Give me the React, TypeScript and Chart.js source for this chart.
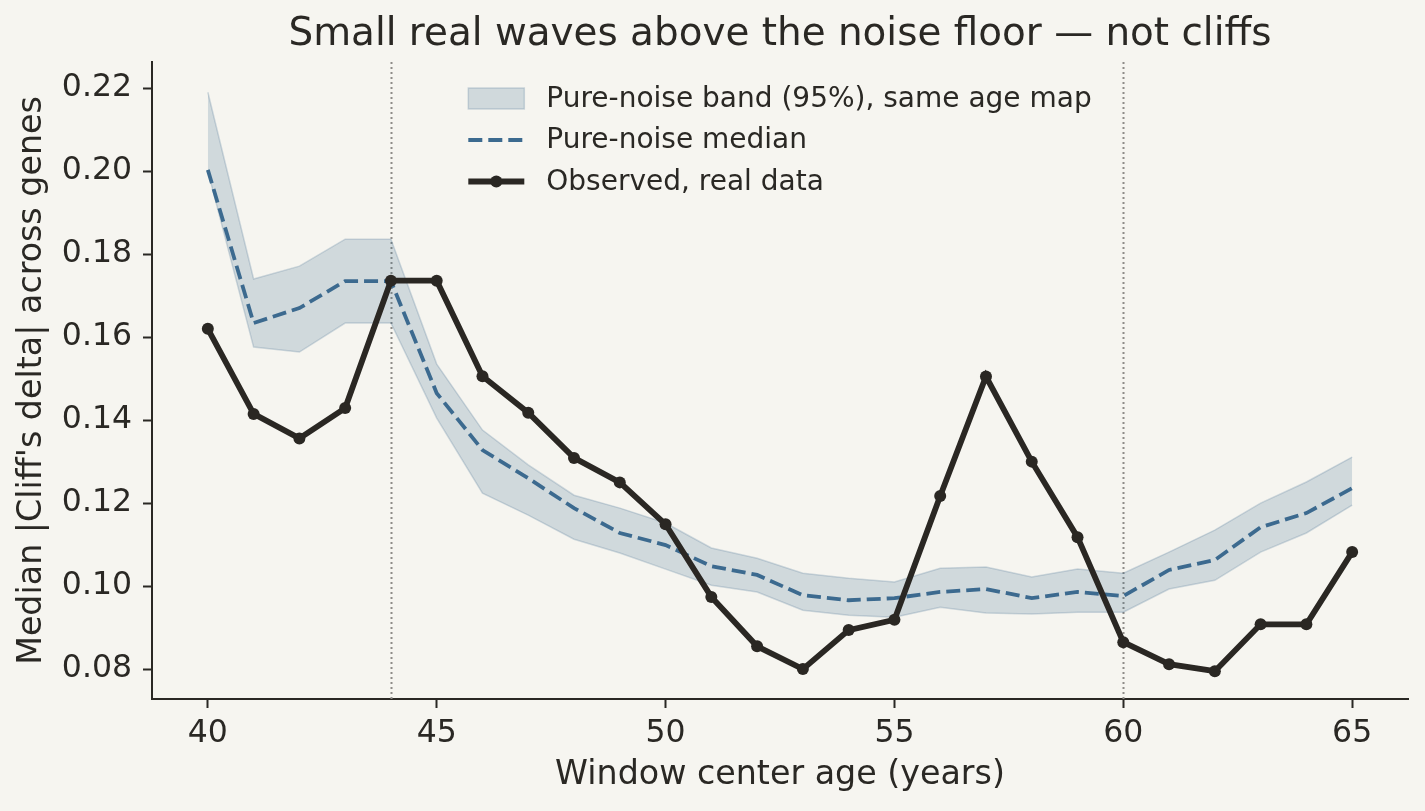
import React, { useEffect, useRef } from "react";
import { Chart, registerables } from "chart.js";

Chart.register(...registerables);

const AGES = [40, 41, 42, 43, 44, 45, 46, 47, 48, 49, 50, 51, 52, 53, 54, 55, 56, 57, 58, 59, 60, 61, 62, 63, 64, 65];
const OBSERVED = [0.162, 0.1415, 0.1356, 0.1429, 0.1736, 0.1736, 0.1506, 0.1418, 0.1309, 0.125, 0.1149, 0.0974, 0.0855, 0.08, 0.0894, 0.0919, 0.1217, 0.1505, 0.13, 0.1118, 0.0865, 0.0812, 0.0795, 0.0908, 0.0908, 0.1082];
const NOISE_MEDIAN = [0.2003, 0.1634, 0.167, 0.1735, 0.1735, 0.1465, 0.1328, 0.126, 0.1188, 0.1128, 0.1099, 0.1048, 0.1027, 0.0978, 0.0966, 0.0971, 0.0986, 0.0993, 0.0971, 0.0986, 0.0976, 0.1039, 0.1063, 0.1142, 0.1176, 0.1236];
const BAND_UPPER = [0.219, 0.174, 0.1771, 0.1836, 0.1836, 0.1535, 0.1376, 0.1292, 0.1219, 0.1188, 0.1152, 0.1092, 0.1067, 0.1031, 0.1019, 0.101, 0.1043, 0.1046, 0.1022, 0.1041, 0.1031, 0.1082, 0.1135, 0.12, 0.1251, 0.1311];
const BAND_LOWER = [0.2, 0.1576, 0.1564, 0.1634, 0.1634, 0.1405, 0.1224, 0.1171, 0.1113, 0.108, 0.1041, 0.1002, 0.0986, 0.0942, 0.093, 0.0925, 0.0949, 0.0935, 0.0933, 0.0937, 0.0937, 0.0993, 0.1014, 0.1082, 0.1128, 0.1195];

const X_TICKS = [40, 45, 50, 55, 60, 65];
const Y_TICKS = [0.08, 0.1, 0.12, 0.14, 0.16, 0.18, 0.2, 0.22];
const X_RANGE = [38.78, 66.22];
const Y_RANGE = [0.0728, 0.2263];
const VLINES = [44, 60];

const TITLE = "Small real waves above the noise floor — not cliffs";
const X_LABEL = "Window center age (years)";
const Y_LABEL = "Median |Cliff's delta| across genes";
const LEGEND_LABELS = ["Pure-noise band (95%), same age map", "Pure-noise median", "Observed, real data"];

const FONT = '"DejaVu Sans", "Liberation Sans", sans-serif';
const INK = "#2a2824";
const BG = "#f6f5f0";
const BAND_FILL = "rgba(61,106,142,0.2)";
const BAND_EDGE = "rgba(61,106,142,0.22)";
const MEDIAN_COLOR = "#3c6a8f";
const OBS_COLOR = "#2a2723";
const VLINE_COLOR = "#8e8c88";
const DASH = [14, 6];

const toPoints = (ys: number[]) => AGES.map((x, i) => ({ x, y: ys[i] }));

const vlinePlugin = {
  id: "vlines",
  beforeDatasetsDraw(chart: any) {
    const { ctx, chartArea, scales } = chart;
    ctx.save();
    ctx.strokeStyle = VLINE_COLOR;
    ctx.lineWidth = 2;
    ctx.setLineDash([2, 3]);
    VLINES.forEach((v) => {
      const px = Math.round(scales.x.getPixelForValue(v)) + 0.5;
      ctx.beginPath();
      ctx.moveTo(px, chartArea.top);
      ctx.lineTo(px, chartArea.bottom);
      ctx.stroke();
    });
    ctx.restore();
  },
};

const titleLegendPlugin = {
  id: "titleLegend",
  afterDraw(chart: any) {
    const { ctx, chartArea } = chart;
    const cx = (chartArea.left + chartArea.right) / 2;
    ctx.save();
    // title
    ctx.fillStyle = INK;
    ctx.font = `38.9px ${FONT}`;
    ctx.textAlign = "center";
    ctx.textBaseline = "middle";
    ctx.fillText(TITLE, cx, chartArea.top - 27);

    // legend
    ctx.font = `28px ${FONT}`;
    const widths = LEGEND_LABELS.map((t) => ctx.measureText(t).width);
    const handleW = 56;
    const gap = 22;
    const total = handleW + gap + Math.max(...widths);
    const left = cx - total / 2;
    const rowY = (i: number) => chartArea.top + 36.5 + i * 41.5;

    // band patch
    let y = rowY(0);
    ctx.fillStyle = BAND_FILL;
    ctx.fillRect(left, y - 10.5, handleW, 21);
    ctx.strokeStyle = BAND_EDGE;
    ctx.lineWidth = 1.5;
    ctx.strokeRect(left, y - 10.5, handleW, 21);

    // dashed median
    y = rowY(1);
    ctx.strokeStyle = MEDIAN_COLOR;
    ctx.lineWidth = 3.8;
    ctx.setLineDash(DASH);
    ctx.beginPath();
    ctx.moveTo(left, y);
    ctx.lineTo(left + handleW, y);
    ctx.stroke();
    ctx.setLineDash([]);

    // observed
    y = rowY(2);
    ctx.strokeStyle = OBS_COLOR;
    ctx.lineWidth = 6;
    ctx.beginPath();
    ctx.moveTo(left, y);
    ctx.lineTo(left + handleW, y);
    ctx.stroke();
    ctx.fillStyle = OBS_COLOR;
    ctx.beginPath();
    ctx.arc(left + handleW / 2, y, 6, 0, Math.PI * 2);
    ctx.fill();

    ctx.fillStyle = INK;
    ctx.textAlign = "left";
    ctx.textBaseline = "middle";
    LEGEND_LABELS.forEach((t, i) => ctx.fillText(t, left + handleW + gap, rowY(i) + 1));
    ctx.restore();
  },
};

export default function App() {
  const ref = useRef<HTMLCanvasElement | null>(null);

  useEffect(() => {
    if (!ref.current) return;
    const chart = new Chart(ref.current, {
      type: "line",
      data: {
        datasets: [
          {
            label: "band-lower",
            data: toPoints(BAND_LOWER),
            borderColor: BAND_EDGE,
            borderWidth: 1.5,
            pointRadius: 0,
            fill: false,
            tension: 0,
            order: 3,
          },
          {
            label: LEGEND_LABELS[0],
            data: toPoints(BAND_UPPER),
            borderColor: BAND_EDGE,
            borderWidth: 1.5,
            backgroundColor: BAND_FILL,
            pointRadius: 0,
            fill: "-1",
            tension: 0,
            order: 2,
          },
          {
            label: LEGEND_LABELS[1],
            data: toPoints(NOISE_MEDIAN),
            borderColor: MEDIAN_COLOR,
            borderWidth: 3.8,
            borderDash: DASH,
            pointRadius: 0,
            fill: false,
            tension: 0,
            order: 1,
          },
          {
            label: LEGEND_LABELS[2],
            data: toPoints(OBSERVED),
            borderColor: OBS_COLOR,
            borderWidth: 5.8,
            pointRadius: 6,
            pointBackgroundColor: OBS_COLOR,
            pointBorderWidth: 0,
            fill: false,
            tension: 0,
            order: 0,
          },
        ],
      },
      options: {
        animation: false,
        responsive: false,
        devicePixelRatio: 1,
        events: [],
        layout: { padding: { top: 62, right: 17, bottom: 0, left: 0 } },
        plugins: {
          legend: { display: false },
          tooltip: { enabled: false },
          title: { display: false },
        },
        scales: {
          x: {
            type: "linear",
            min: X_RANGE[0],
            max: X_RANGE[1],
            afterBuildTicks: (scale: any) => {
              scale.ticks = X_TICKS.map((v) => ({ value: v }));
            },
            afterFit: (scale: any) => {
              scale.height = 112;
            },
            ticks: {
              color: INK,
              font: { family: FONT, size: 31.5 },
              padding: 7,
              maxRotation: 0,
              autoSkip: false,
              callback: (v: any) => String(v),
            },
            grid: {
              drawOnChartArea: false,
              drawTicks: true,
              tickLength: 9,
              tickWidth: 2,
              tickColor: INK,
            },
            border: { display: true, color: INK, width: 2 },
            title: {
              display: true,
              text: X_LABEL,
              color: INK,
              font: { family: FONT, size: 33.3 },
              padding: { top: 0, bottom: 16 },
            },
          },
          y: {
            type: "linear",
            min: Y_RANGE[0],
            max: Y_RANGE[1],
            afterBuildTicks: (scale: any) => {
              scale.ticks = Y_TICKS.map((v) => ({ value: v }));
            },
            afterFit: (scale: any) => {
              scale.width = 152;
            },
            ticks: {
              color: INK,
              font: { family: FONT, size: 31.5 },
              padding: 11,
              autoSkip: false,
              callback: (v: any) => Number(v).toFixed(2),
            },
            grid: {
              drawOnChartArea: false,
              drawTicks: true,
              tickLength: 9,
              tickWidth: 2,
              tickColor: INK,
            },
            border: { display: true, color: INK, width: 2 },
            title: {
              display: true,
              text: Y_LABEL,
              color: INK,
              font: { family: FONT, size: 33.3 },
              padding: { top: 12, bottom: 0 },
            },
          },
        },
      },
      plugins: [vlinePlugin, titleLegendPlugin],
    } as any);
    return () => chart.destroy();
  }, []);

  return (
    <div style={{ position: "fixed", left: 0, top: 0, width: 1425, height: 811, background: BG }}>
      <canvas ref={ref} width={1425} height={811} style={{ display: "block" }} />
    </div>
  );
}
